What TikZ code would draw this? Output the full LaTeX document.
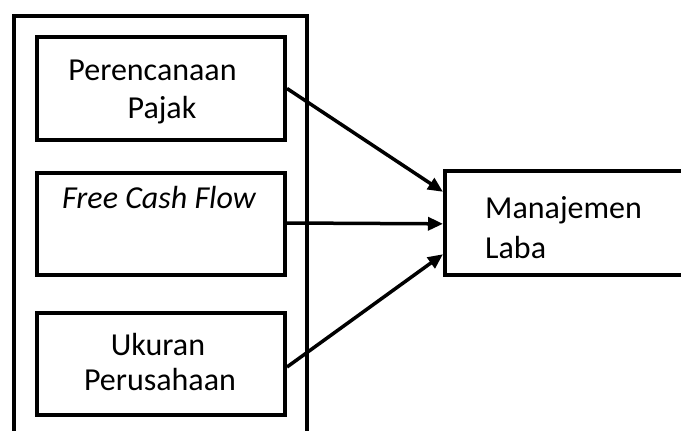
\documentclass[tikz,border=0pt]{standalone}
\usepackage{fontspec}
\setmainfont{Carlito}
\usetikzlibrary{arrows.meta,calc}
\begin{document}
\begin{tikzpicture}[x=1pt,y=-1pt,
  box/.style={draw,line width=4pt,rectangle,inner sep=0pt},
  lbl/.style={anchor=base,inner sep=0pt,font=\fontsize{32}{38}\selectfont},
  arr/.style={line width=3.5pt,-{Triangle[length=15pt,width=13pt]}}]
\clip (0,0) rectangle (681,431);
\fill[white] (0,0) rectangle (681,431);
% outer frame (open at bottom)
\coordinate (obl) at (14,445);
\coordinate (otl) at (14,16);
\coordinate (otr) at (307,16);
\coordinate (obr) at (307,445);
\draw[line width=4pt] (obl) -- (otl) -- (otr) -- (obr);
% inner boxes
\node[box,minimum width=248pt,minimum height=103pt] (p) at (161,88.5) {};
\node[box,minimum width=248pt,minimum height=102pt] (f) at (161,224) {};
\node[box,minimum width=248pt,minimum height=102pt] (u) at (161,364) {};
\node[box,minimum width=260pt,minimum height=104.5pt] (m) at (575,222.75) {};
% texts
\node[lbl] (t1) at (152.5,80) {Perencanaan};
\node[lbl] (t2) at (162,118) {Pajak};
\node[lbl] (t3) at (159,208) {\itshape Free Cash Flow};
\node[lbl] (t4) at (158,355) {Ukuran};
\node[lbl] (t5) at (160,390) {Perusahaan};
\node[lbl,anchor=base west] (t6) at (485,218) {Manajemen};
\node[lbl,anchor=base west] (t7) at (485,258) {Laba};
% arrows
\coordinate (e1) at ($(m.north west)!0.215!(m.south west)$);
\coordinate (e2) at ($(m.north west)!0.51!(m.south west)$);
\coordinate (e3) at ($(m.north west)!0.79!(m.south west)$);
\draw[arr] (p.east) -- (e1);
\draw[arr] ([yshift=1pt]f.east) -- (e2);
\draw[arr] ([yshift=-3pt]u.east) -- (e3);
\end{tikzpicture}
\end{document}
